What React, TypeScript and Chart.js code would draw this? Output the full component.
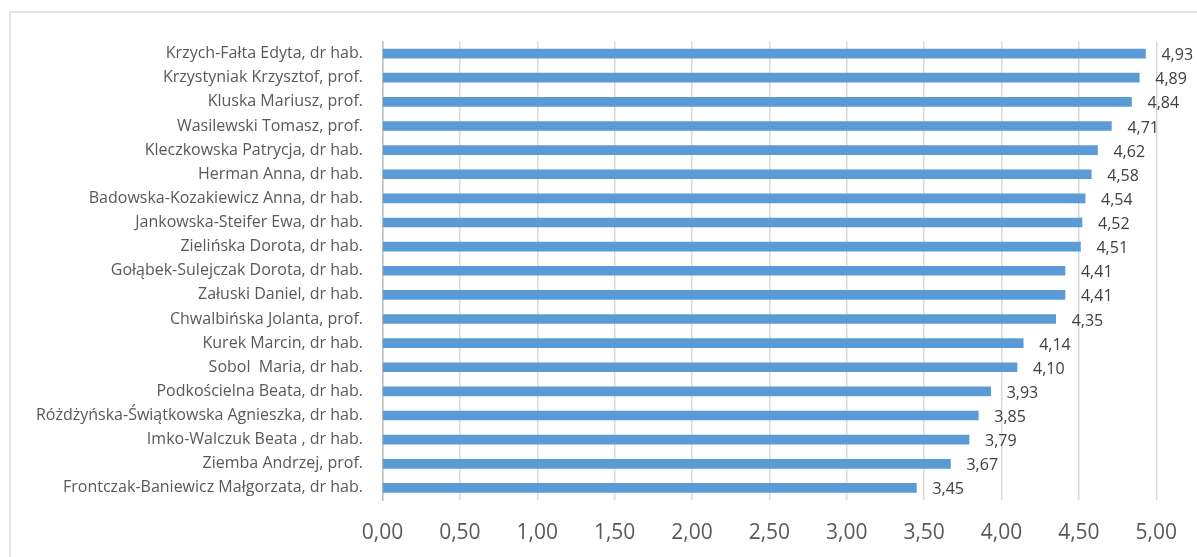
import React, { useEffect, useRef } from "react";
import { Chart, registerables } from "chart.js";

Chart.register(...registerables);

const categories = [
  "Krzych-Fałta Edyta, dr hab.",
  "Krzystyniak Krzysztof, prof.",
  "Kluska Mariusz, prof.",
  "Wasilewski Tomasz, prof.",
  "Kleczkowska Patrycja, dr hab.",
  "Herman Anna, dr hab.",
  "Badowska-Kozakiewicz Anna, dr hab.",
  "Jankowska-Steifer Ewa, dr hab.",
  "Zielińska Dorota, dr hab.",
  "Gołąbek-Sulejczak Dorota, dr hab.",
  "Załuski Daniel, dr hab.",
  "Chwalbińska Jolanta, prof.",
  "Kurek Marcin, dr hab.",
  "Sobol  Maria, dr hab.",
  "Podkościelna Beata, dr hab.",
  "Różdżyńska-Świątkowska Agnieszka, dr hab.",
  "Imko-Walczuk Beata , dr hab.",
  "Ziemba Andrzej, prof.",
  "Frontczak-Baniewicz Małgorzata, dr hab.",
];

const scores = [4.93, 4.89, 4.84, 4.71, 4.62, 4.58, 4.54, 4.52, 4.51, 4.41, 4.41, 4.35, 4.14, 4.1, 3.93, 3.85, 3.79, 3.67, 3.45];

const axisMin = 0;
const axisMax = 5;
const axisStep = 0.5;

const FONT = "'Open Sans', sans-serif";
const fmt = (v: number) => v.toFixed(2).replace(".", ",");

export default function App() {
  const ref = useRef<HTMLCanvasElement | null>(null);

  useEffect(() => {
    if (!ref.current) return;
    const frame = {
      id: "frame",
      beforeDraw(chart: any) {
        const ctx = chart.ctx;
        ctx.save();
        ctx.fillStyle = "#ffffff";
        ctx.fillRect(0, 0, chart.width, chart.height);
        ctx.strokeStyle = "#d9d9d9";
        ctx.lineWidth = 1.5;
        ctx.strokeRect(10, 12, chart.width + 20, chart.height + 20);
        ctx.restore();
      },
    };
    const valueLabels = {
      id: "valueLabels",
      afterDatasetsDraw(chart: any) {
        const ctx = chart.ctx;
        const meta = chart.getDatasetMeta(0);
        ctx.save();
        ctx.font = `16px ${FONT}`;
        ctx.fillStyle = "#404040";
        ctx.textAlign = "left";
        ctx.textBaseline = "middle";
        meta.data.forEach((el: any, i: number) => {
          ctx.fillText(fmt(scores[i]), el.x + 16, el.y + 2);
        });
        ctx.restore();
      },
    };
    const chart = new Chart(ref.current, {
      type: "bar",
      data: {
        labels: categories,
        datasets: [
          {
            data: scores,
            backgroundColor: "#5b9bd5",
            barThickness: 9,
          },
        ],
      },
      options: {
        indexAxis: "y",
        animation: false,
        responsive: false,
        maintainAspectRatio: false,
        layout: { padding: { left: 0, right: 38, top: 41.5, bottom: 0 } },
        plugins: { legend: { display: false }, tooltip: { enabled: false } },
        scales: {
          x: {
            min: axisMin,
            max: axisMax,
            ticks: {
              stepSize: axisStep,
              color: "#595959",
              font: { family: FONT, size: 21 },
              padding: 20,
              callback: (v: any) => fmt(Number(v)),
            },
            grid: { color: "#d9d9d9", lineWidth: 1.5, drawTicks: false },
            border: { display: false },
            afterFit: (s: any) => {
              s.height = 57;
            },
          },
          y: {
            ticks: {
              color: "#595959",
              font: { family: FONT, size: 16 },
              padding: 19.5,
              autoSkip: false,
            },
            grid: { display: false, drawTicks: false },
            border: { display: true, color: "#bfbfbf", width: 1.5 },
            afterFit: (s: any) => {
              s.width = 382.5;
            },
          },
        },
      },
      plugins: [frame, valueLabels],
    });
    return () => chart.destroy();
  }, []);

  return (
    <div style={{ position: "absolute", left: 0, top: 0, width: 1197, height: 557 }}>
      <canvas ref={ref} width={1197} height={557} style={{ display: "block" }} />
    </div>
  );
}
